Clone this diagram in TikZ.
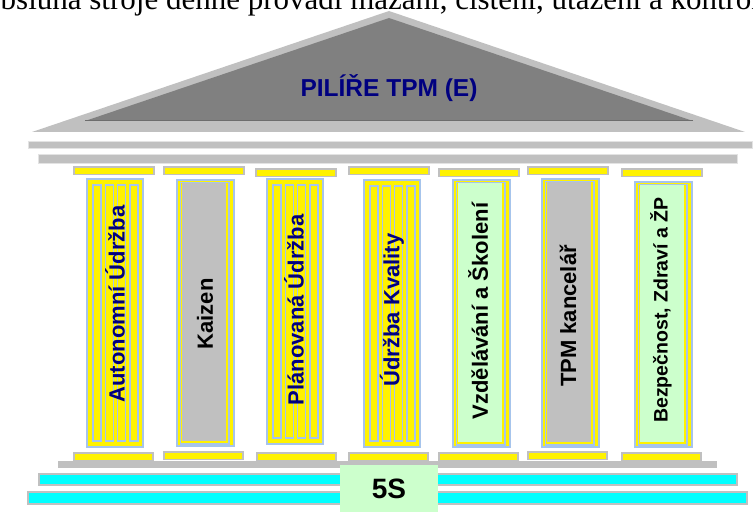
\documentclass[tikz,border=0pt]{standalone}
\usepackage{fontspec}
\setmainfont{Liberation Serif}
\setsansfont{Liberation Sans}
\usetikzlibrary{positioning}
\definecolor{roofgray}{HTML}{808080}
\definecolor{beamgray}{HTML}{C0C0C0}
\definecolor{pillarblue}{HTML}{A6C4EC}
\definecolor{mint}{HTML}{CCFFCC}
\definecolor{navytext}{HTML}{000080}
\definecolor{stepcyan}{HTML}{00FFFF}

\begin{document}
\begin{tikzpicture}[x=1pt, y=-1pt,
  beam/.style={fill=beamgray, draw=beamgray!45, line width=0.8pt},
  capbar/.style={fill=yellow, draw=beamgray, line width=1.5pt},
  shaft/.style={fill=yellow, draw=pillarblue, line width=1.2pt},
  flute/.style={fill=yellow, draw=pillarblue, line width=1.2pt},
  stair/.style={fill=stepcyan, draw=beamgray, line width=1.5pt},
  pillarlabel/.style={rotate=90, inner sep=0pt, font=\sffamily\bfseries\fontsize{22}{24}\selectfont}]
  \useasboundingbox (0,0) rectangle (753,516);

  % line of text cut off above the picture
  \begin{scope}
    \clip (0,0) rectangle (753,516);
    \node[anchor=base west, inner sep=0pt, font=\fontsize{31}{33}\selectfont] (introLine) at (-15,10)
      {obsluha stroje denně provádí mazání, čištění, utažení a kontrolu};
  \end{scope}

  % roof
  \fill[beamgray] (32,132) -- (389,11) -- (745,132) -- cycle;
  \fill[roofgray] (85,121) -- (389,18) -- (693,121) -- cycle;
  \draw[roofgray!85!black, line width=1pt] (85,121) -- (693,121);
  \node[text=navytext, font=\sffamily\bfseries\fontsize{24.5}{26}\selectfont] (roofTitle) at (389,88) {PILÍŘE TPM (E)};

  % beams under the roof
  \draw[beam] (28,141) rectangle (752,148);
  \draw[beam] (38,154) rectangle (737,163);

  % capitals
  \foreach \cx/\cy in {74/167, 164/167, 256/169, 349/167, 439/169, 528/167, 622/169}
    \draw[capbar] (\cx,\cy) rectangle ++(80,7.5);

  % fluted shafts
  \foreach \px/\pt/\pb in {87/179/447, 267/179/444, 364/180/447} {
    \draw[shaft] (\px,\pt) rectangle (\px+56,\pb);
    \foreach \i in {0,...,3}
      \draw[flute] ({\px+6+12.3*\i},\pt+6) rectangle ++(8,\pb-\pt-12);
  }

  % plain shafts with a panel
  \foreach \px/\pt/\pb/\panel in {177/180/446/beamgray, 453/180/447/mint, 542/179/447/beamgray, 635/182/447/mint} {
    \draw[shaft] (\px,\pt) rectangle (\px+57,\pb);
    \draw[flute] (\px+3.5,\pt+2.5) rectangle (\px+52,\pb-2);
    \fill[\panel] (\px+5,\pt+3.5) rectangle (\px+49,\pb-5);
  }

  \node[pillarlabel, text=navytext] (lblAutonomni) at (115,304) {Autonomní Údržba};
  \node[pillarlabel] (lblKaizen) at (205,314) {Kaizen};
  \node[pillarlabel, text=navytext] (lblPlanovana) at (294,310) {Plánovaná Údržba};
  \node[pillarlabel, text=navytext] (lblKvalita) at (392,310) {Údržba Kvality};
  \node[pillarlabel] (lblSkoleni) at (478,311) {Vzdělávání a Školení};
  \node[pillarlabel] (lblKancelar) at (568,316) {TPM kancelář};
  \node[pillarlabel, font=\sffamily\bfseries\fontsize{19.5}{21}\selectfont] (lblBezpecnost) at (661,310) {Bezpečnost, Zdraví a ŽP};

  % bases
  \foreach \bx/\by in {74/453, 164/452, 257/453, 349/453, 439/453, 528/452, 622/453}
    \draw[capbar] (\bx,\by) rectangle ++(79,7.5);

  % plinth and steps
  \fill[beamgray] (58,461) rectangle (717,468);
  \draw[stair] (39,474) rectangle (737,485);
  \draw[stair] (28,492) rectangle (747,504);

  \fill[mint] (340,465) rectangle (438,512);
  \node[font=\sffamily\bfseries\fontsize{28}{30}\selectfont] (fiveS) at (389,489) {5S};
\end{tikzpicture}
\end{document}
